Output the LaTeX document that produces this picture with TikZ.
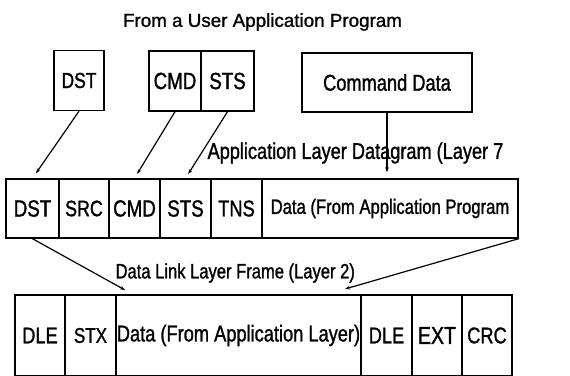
\documentclass[tikz,border=0pt]{standalone}
\usepackage{fontspec}
\setmainfont[FakeStretch=0.8,FakeBold=1.2]{Liberation Sans}
\newfontfamily\headfont[FakeBold=1.2]{Liberation Sans}
\usetikzlibrary{arrows.meta}
\newcommand{\fsz}[1]{\fontsize{#1}{#1}\selectfont}
\tikzset{
  pg/.style={x=1pt,y=-1pt,line width=1.2pt},
  cell/.style={draw,line width=1.4pt,inner sep=0pt,font=\fsz{23.4}},
  rowU/.style={cell,minimum height=60pt},
  rowM/.style={cell,minimum height=59pt},
  rowB/.style={cell,minimum height=81pt,font=\fsz{22.8}},
  lbl/.style={inner sep=0pt,anchor=west},
  arr/.style={-{Stealth[length=5pt,width=3.5pt]}}
}

\begin{document}
\begin{tikzpicture}[pg]
  \useasboundingbox (0,0) rectangle (570,375);
  \node[inner sep=0pt,font={\headfont\fsz{18.8}}] (ttl) at (262.5,22) {From a User Application Program};
  % user program fields
  \node[rowU,minimum width=50pt,font=\fsz{21.8}] (dstU) at (79,80.5) {DST};
  \node[rowU,minimum width=52pt] (cmdU) at (175,81) {CMD};
  \node[rowU,minimum width=53pt] (stsU) at (227.5,81) {STS};
  \node[rowU,minimum width=170pt,minimum height=59pt,font=\fsz{22.8}] (datU) at (387,82.5) {Command Data};
  % layer 7
  \node[lbl,font=\fsz{22.7}] (appL) at (207,153) {Application Layer Datagram (Layer 7};
  \node[rowM,minimum width=53pt] (dstM) at (32.5,208.5) {DST};
  \node[rowM,minimum width=50pt,font=\fsz{22.3}] (srcM) at (84,208.5) {SRC};
  \node[rowM,minimum width=51pt] (cmdM) at (134.5,208.5) {CMD};
  \node[rowM,minimum width=51pt] (stsM) at (185.5,208.5) {STS};
  \node[rowM,minimum width=51pt,font=\fsz{22.8}] (tnsM) at (236.5,208.5) {TNS};
  \node[rowM,minimum width=256pt,font=\fsz{20.8}] (datM) at (390,208.5) {Data (From Application Program};
  % layer 2
  \node[lbl,font=\fsz{20.7}] (dllL) at (115,273) {Data Link Layer Frame (Layer 2)};
  \node[rowB,minimum width=50pt] (dleB) at (40,335.5) {DLE};
  \node[rowB,minimum width=51pt,font=\fsz{21.3}] (stxB) at (90.5,335.5) {STX};
  \node[rowB,minimum width=245pt] (datB) at (238.5,335.5) {Data (From Application Layer)};
  \node[rowB,minimum width=51pt] (dleBB) at (386.5,335.5) {DLE};
  \node[rowB,minimum width=50pt,font=\fsz{24.4}] (extB) at (437,335.5) {EXT};
  \node[rowB,minimum width=50pt] (crcB) at (487,335.5) {CRC};
  \coordinate (tipL) at (125,290);
  \coordinate (tipR) at (345,289);
  \draw[arr,shorten >=6pt] (dstU.south) -- (dstM.north);
  \draw[arr,shorten >=5pt] (cmdU.south) -- (cmdM.north);
  \draw[arr,shorten >=5pt] (stsU.south) -- (stsM.north);
  \draw[arr,shorten >=6pt] (datU.south) -- (datU.south |- datM.north);
  \draw[arr] (dstM.south) -- (tipL);
  \draw[arr] (datM.south east) -- (tipR);
\end{tikzpicture}
\end{document}
